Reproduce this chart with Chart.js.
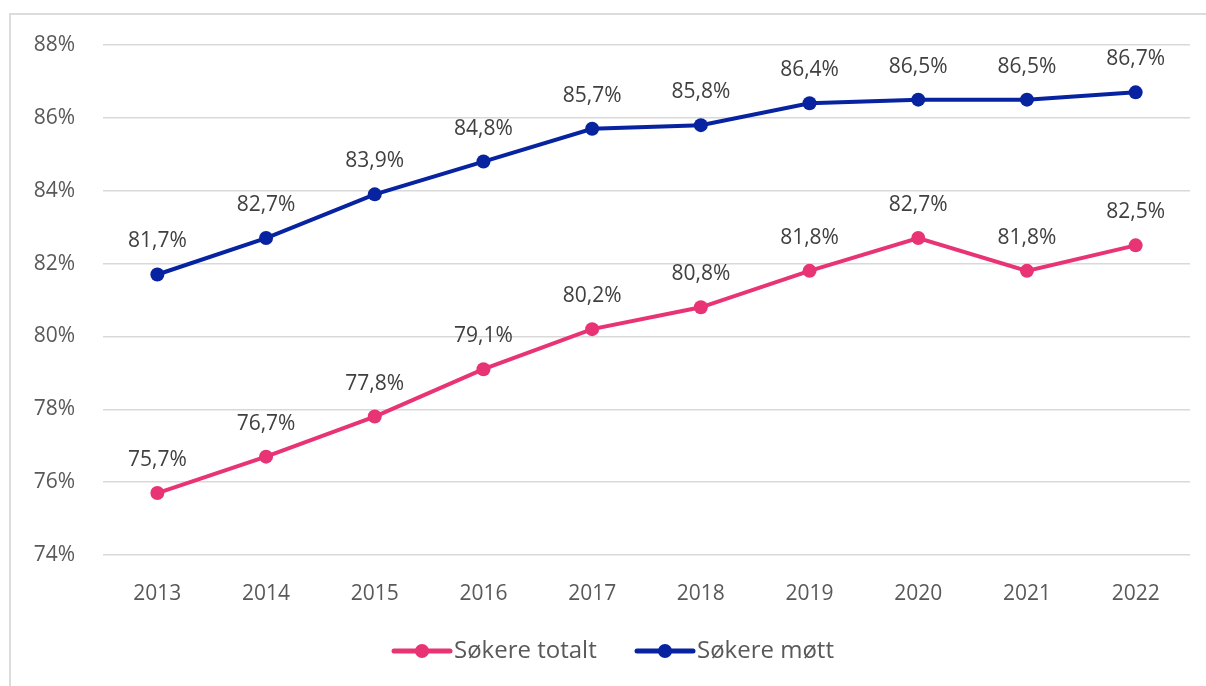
<!DOCTYPE html>
<html>
<head>
<meta charset="utf-8">
<script src="https://cdn.jsdelivr.net/npm/chart.js@4"></script>
<style>
  body { margin: 0; background: #fff; }
  #wrap { position: relative; width: 1206px; height: 686px; }
  #frame { position: absolute; left: 9px; top: 13px; right: 0; bottom: 0; border-left: 2px solid #dcdcdc; border-top: 2px solid #dcdcdc; }
  #myGraph { position: absolute; left: 0; top: 0; }
</style>
</head>
<body>
<div id="wrap">
  <div id="frame"></div>
  <canvas id="myGraph" width="1206" height="686"></canvas>
</div>
<script>
var years = ['2013', '2014', '2015', '2016', '2017', '2018', '2019', '2020', '2021', '2022'];
var totalt = [75.7, 76.7, 77.8, 79.1, 80.2, 80.8, 81.8, 82.7, 81.8, 82.5];
var mott = [81.7, 82.7, 83.9, 84.8, 85.7, 85.8, 86.4, 86.5, 86.5, 86.7];
var yTicks = [74, 76, 78, 80, 82, 84, 86, 88];

var pink = '#E83375';
var navy = '#0723A0';
var fontFamily = '"Open Sans", sans-serif';

function pct(v) {
    return v.toFixed(1).replace('.', ',') + '%';
}

// value labels above each point
var valueLabels = {
    id: 'valueLabels',
    afterDatasetsDraw: function (chart) {
        var ctx = chart.ctx;
        ctx.save();
        ctx.font = '21px ' + fontFamily;
        ctx.fillStyle = '#404040';
        ctx.textAlign = 'center';
        ctx.textBaseline = 'middle';
        chart.data.datasets.forEach(function (ds, i) {
            chart.getDatasetMeta(i).data.forEach(function (pt, j) {
                ctx.fillText(pct(ds.data[j]), pt.x, pt.y - 33);
            });
        });
        ctx.restore();
    }
};

// legend with line + dot
var lineLegend = {
    id: 'lineLegend',
    afterDraw: function (chart) {
        var ctx = chart.ctx;
        var items = [{ x: 394 }, { x: 637 }];
        ctx.save();
        ctx.font = '24px ' + fontFamily;
        ctx.textBaseline = 'middle';
        chart.data.datasets.forEach(function (ds, i) {
            var x = items[i].x, y = 651;
            ctx.strokeStyle = ds.borderColor;
            ctx.lineWidth = 5;
            ctx.lineCap = 'round';
            ctx.beginPath();
            ctx.moveTo(x, y);
            ctx.lineTo(x + 56, y);
            ctx.stroke();
            ctx.fillStyle = ds.borderColor;
            ctx.beginPath();
            ctx.arc(x + 28, y, 7, 0, Math.PI * 2);
            ctx.fill();
            ctx.fillStyle = '#595959';
            ctx.fillText(ds.label, x + 60, y);
        });
        ctx.restore();
    }
};

var ctx = document.getElementById('myGraph');
var myChart = new Chart(ctx, {
    type: 'line',
    data: {
        labels: years,
        datasets: [
            {
                label: 'Søkere totalt',
                data: totalt,
                borderColor: pink,
                backgroundColor: pink,
                borderWidth: 4,
                pointRadius: 7,
                pointHoverRadius: 7,
                pointBackgroundColor: pink,
                pointBorderWidth: 0
            },
            {
                label: 'Søkere møtt',
                data: mott,
                borderColor: navy,
                backgroundColor: navy,
                borderWidth: 4,
                pointRadius: 7,
                pointHoverRadius: 7,
                pointBackgroundColor: navy,
                pointBorderWidth: 0
            }
        ]
    },
    options: {
        responsive: false,
        animation: false,
        layout: { padding: { top: 45, right: 16, left: 0, bottom: 0 } },
        plugins: {
            legend: { display: false },
            tooltip: { enabled: false }
        },
        scales: {
            x: {
                offset: true,
                grid: { display: false, drawTicks: false },
                border: { display: false },
                ticks: { color: '#595959', font: { size: 21, family: fontFamily }, padding: 26 },
                afterFit: function (s) { s.height = 131; }
            },
            y: {
                min: 74,
                max: 88,
                afterBuildTicks: function (s) {
                    s.ticks = yTicks.map(function (v) { return { value: v }; });
                },
                grid: { color: '#d9d9d9', lineWidth: 1.5, drawTicks: false },
                border: { display: false },
                ticks: {
                    color: '#595959',
                    font: { size: 21, family: fontFamily },
                    padding: 28,
                    callback: function (v) { return v + '%'; }
                },
                afterFit: function (s) { s.width = 103; }
            }
        }
    },
    plugins: [valueLabels, lineLegend]
});
</script>
</body>
</html>
